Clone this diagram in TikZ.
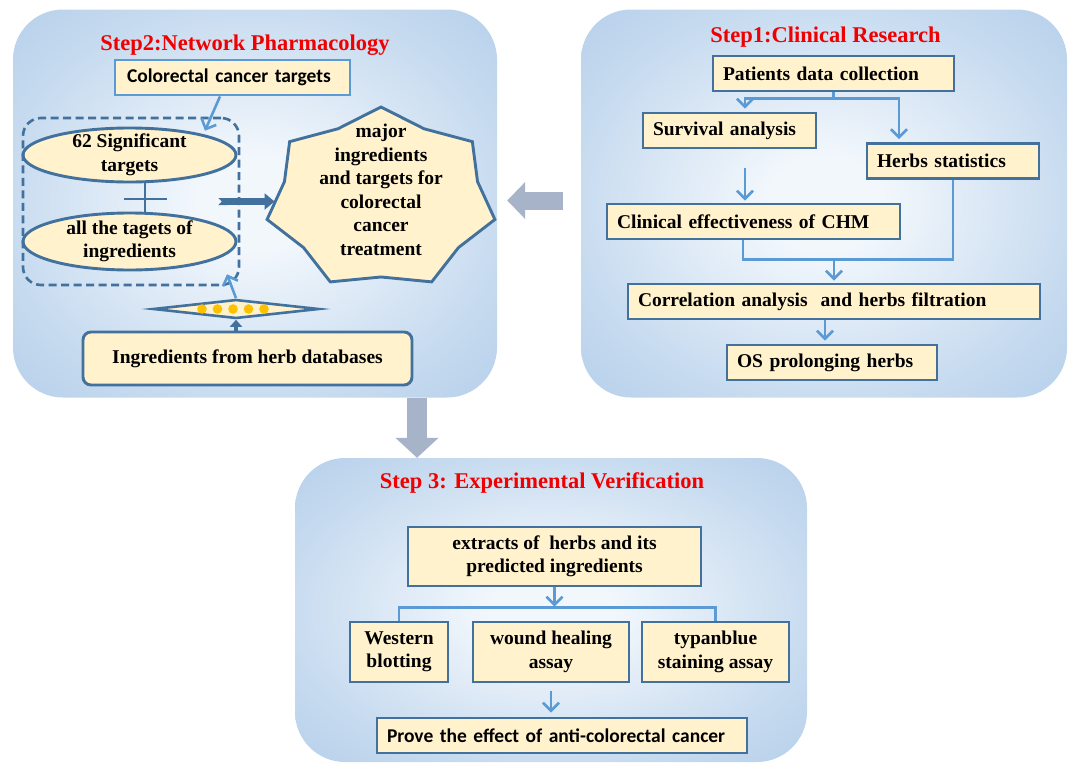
\documentclass[tikz,border=0pt]{standalone}
\usepackage{fontspec}
\setmainfont{Liberation Serif}
\newfontfamily\calibri{Carlito}
\usetikzlibrary{arrows.meta,positioning,shapes.geometric}

\definecolor{panelblue}{HTML}{AAC8E7}
\definecolor{panelwhite}{HTML}{F2F7FC}
\colorlet{panelmid}{panelblue!60!panelwhite}
\definecolor{boxfill}{HTML}{FFF2CC}
\definecolor{boxline}{HTML}{41719C}
\definecolor{linkblue}{HTML}{5B9BD5}
\definecolor{bigarrowgray}{HTML}{A6B3C8}
\definecolor{dotyellow}{HTML}{FFC000}
\definecolor{titlered}{HTML}{F00000}

\pgfdeclareradialshading{panelglow}{\pgfpoint{0bp}{0bp}}{color(0bp)=(panelwhite); color(6bp)=(panelwhite); color(26bp)=(panelmid); color(42bp)=(panelblue); color(72bp)=(panelblue)}

\begin{document}
\begin{tikzpicture}[
    x=1pt, y=-1pt,
    panel/.style={shading=panelglow, rounded corners=50pt, inner sep=0pt},
    steptitle/.style={text=titlered, font=\fontsize{22.5}{26}\selectfont\bfseries},
    stepbox/.style={draw=boxline, fill=boxfill, line width=2.9pt,
        font=\fontsize{19.5}{23.5}\selectfont\bfseries,
        inner xsep=10pt, inner ysep=0pt, minimum height=35pt},
    leftbox/.style={stepbox, align=left, text width=#1},
    midbox/.style={stepbox, align=center},
    calbox/.style={stepbox, font=\calibri\fontsize{19.5}{23.5}\selectfont\bfseries,
        align=left, text width=#1},
    oval/.style={ellipse, draw=boxline, fill=boxfill, line width=2.9pt,
        minimum width=213pt, inner sep=0pt},
    ovaltext/.style={font=\fontsize{19.5}{23.5}\selectfont\bfseries, align=center},
    groupbox/.style={draw=boxline, dash pattern=on 8pt off 4.5pt, line width=2.6pt,
        rounded corners=18pt},
    crossline/.style={draw=boxline, line width=2.9pt},
    linkline/.style={draw=linkblue, line width=2.6pt},
    linkarrow/.style={linkline, -{Straight Barb[length=8pt,width=16pt]}},
    fatarrow/.style={draw=boxline, line width=4pt, -{Triangle[length=7pt,width=12pt]}},
    notcharrow/.style={draw=boxline, line width=7pt,
        {Triangle Cap[reversed]}-{Triangle[length=10pt,width=16pt]}},
    bigarrow/.style={draw=bigarrowgray, line width=#1}
]
\useasboundingbox (0,0) rectangle (1072,763);

\node[panel, minimum width=484pt, minimum height=388pt] (netpanel) at (255,203.5) {};
\node[panel, minimum width=486pt, minimum height=388pt] (clinpanel) at (824,203.5) {};
\node[panel, minimum width=512pt, minimum height=304pt] (exppanel) at (551,610) {};

\node[steptitle] (nettitle) at (245,45) {Step2:Network Pharmacology};
\node[steptitle] (clintitle) at (825.5,37) {Step1:Clinical Research};
\node[steptitle] (exptitle) at (542,483) {Step 3: Experimental Verification};

% step 2
\node[calbox=211pt, draw=linkblue, minimum width=235pt] (crctargets) at (232.5,77.5)
    {Colorectal cancer targets};
\node[oval, minimum height=54pt] (sigoval) at (129.5,155) {};
\node[ovaltext] at (sigoval) {62 Significant\\targets};
\node[oval, minimum height=57pt] (alloval) at (129.5,241.5) {};
\node[ovaltext] at (alloval) {all the tagets of\\ingredients};
\draw[crossline] ([xshift=15.5pt]sigoval.south) -- ([xshift=15.5pt]alloval.north);
\draw[crossline] (124,199) -- (167,199);
\node[groupbox, minimum width=216pt, minimum height=167pt] (grp) at (131,201.5) {};
\node[star, star points=7, star point ratio=1.18, minimum size=184pt, xscale=1.27,
    transform shape, draw=boxline, fill=boxfill, line width=2.9pt, inner sep=0pt]
    (starshape) at (381,199) {};
\node[ovaltext] (majortext) at (381,190)
    {major\\ingredients\\and targets for\\colorectal\\cancer\\treatment};
\node[diamond, draw=boxline, fill=boxfill, line width=2.6pt, minimum width=166pt,
    minimum height=19pt, inner sep=0pt] (filter) at (236,309) {};
\foreach \i in {0,...,4}
    \fill[dotyellow] ([xshift={(-34+15.5*\i)*1pt}]filter.center) circle (4.8pt);
\node[midbox, rounded corners=8pt, minimum width=329pt, minimum height=53pt] (herbdb)
    at (247.5,358.5) {Ingredients from herb databases};
\draw[linkarrow] ([xshift=-12.5pt]crctargets.south) -- ([xshift=74pt,yshift=-14pt]grp.north);
\draw[notcharrow] ([xshift=-22pt]grp.east) -- (grp.east -| starshape.west);
\draw[linkarrow] (filter.north) -- ([xshift=96pt,yshift=12pt]grp.south);
\draw[fatarrow] (herbdb.north -| filter.south) -- (filter.south);

% step 1
\node[leftbox=221pt] (patients) at (833.5,73.5) {Patients data collection};
\node[leftbox=153pt] (survival) at (729.5,130.5) {Survival analysis};
\node[leftbox=152pt] (herbs) at (953,161) {Herbs statistics};
\node[leftbox=273pt] (clinical) at (753.5,221.5) {Clinical effectiveness of CHM};
\node[leftbox=392pt] (correlation) at (834,301.5) {Correlation analysis~ and herbs filtration};
\node[leftbox=190pt] (osherbs) at (832,362.5) {OS prolonging herbs};
\coordinate (pdsplit) at ([yshift=-6pt]patients.south);
\coordinate (merge) at ([yshift=23pt]correlation.north);
\draw[linkline] (patients.south) -- (pdsplit);
\draw[linkarrow, shorten >=3pt] (pdsplit) -| ([xshift=15.5pt]survival.north);
\draw[linkarrow, shorten >=3pt] (pdsplit) -| ([xshift=-54pt]herbs.north);
\draw[linkarrow, shorten >=2pt] ([xshift=15.5pt,yshift=-19pt]survival.south)
    -- ([xshift=15.5pt]survival.south |- clinical.north);
\draw[linkline] ([xshift=-10.5pt]clinical.south) |- (merge) -| (herbs.south);
\draw[linkarrow, shorten >=2pt] (merge) -- (correlation.north);
\draw[linkarrow, shorten >=3pt] ([xshift=-9pt]correlation.south)
    -- ([xshift=-9pt]correlation.south |- osherbs.north);

% step 3
\node[midbox, minimum width=293pt, minimum height=59pt] (extracts) at (554.5,556.5)
    {extracts of~ herbs and its\\predicted ingredients};
\node[midbox, minimum width=98pt, minimum height=60pt] (western) at (399,652)
    {Western\\blotting};
\node[midbox, minimum width=156pt, minimum height=60pt] (wound) at (551,652)
    {wound healing\\assay};
\node[midbox, minimum width=147pt, minimum height=60pt] (typan) at (715.5,652)
    {typanblue\\staining assay};
\node[calbox=350pt, minimum width=370pt] (prove) at (562,735.5)
    {Prove the effect of anti-colorectal cancer};
\coordinate (fork) at ([yshift=13pt]western.north);
\draw[linkline] (western.north) -- (fork) -| (typan.north);
\draw[linkarrow, shorten >=1pt] (extracts.south) -- (extracts.south |- fork);
\draw[linkarrow, shorten >=4pt] ([yshift=-8pt]wound.south) -- (wound.south |- prove.north);

% between the steps
\draw[bigarrow=20pt, -{Triangle[length=20pt,width=42pt]}] ([xshift=162pt]netpanel.south)
    -- ([xshift=162pt]netpanel.south |- exppanel.north);
\draw[bigarrow=18pt, -{Triangle[length=18pt,width=36pt]}] ([xshift=-18pt,yshift=3pt]clinpanel.west)
    -- ([xshift=10pt,yshift=3pt]netpanel.east);
\end{tikzpicture}
\end{document}
